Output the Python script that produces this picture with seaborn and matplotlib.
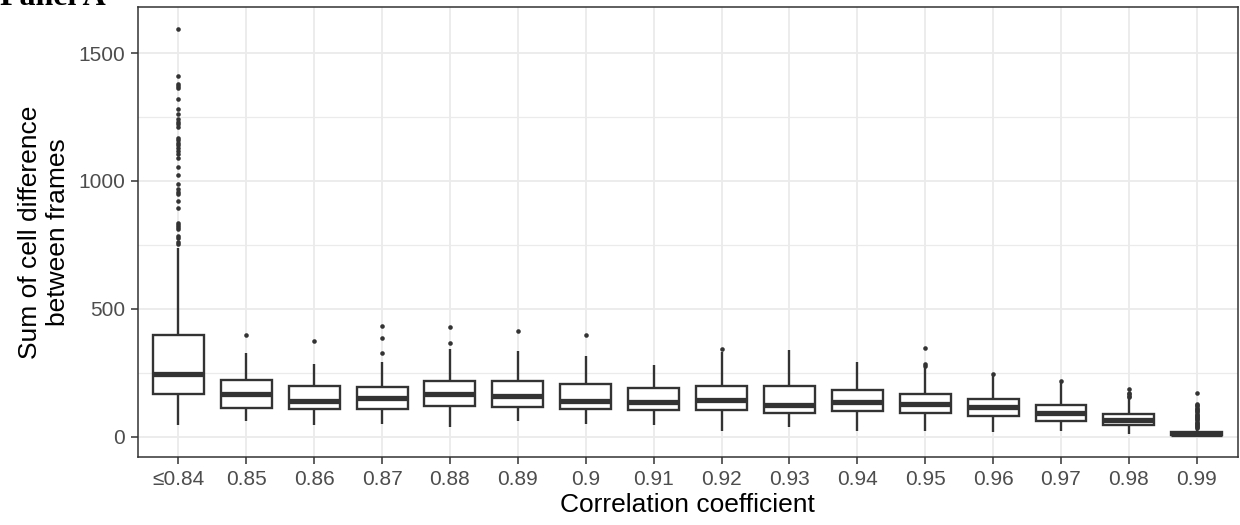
import numpy as np
import pandas as pd
import matplotlib
matplotlib.use("Agg")
import matplotlib.pyplot as plt
from matplotlib.ticker import MultipleLocator
import seaborn as sns

# Box summaries
categories = ["≤0.84", "0.85", "0.86", "0.87", "0.88", "0.89", "0.9", "0.91",
              "0.92", "0.93", "0.94", "0.95", "0.96", "0.97", "0.98", "0.99"]
whisker_low = [46, 59, 46, 51, 39, 62, 50, 47, 23, 39, 21, 23, 17, 21, 10, 0]
q1 = [165, 113, 108, 109, 121, 117, 108, 102, 102, 94, 99, 91, 81, 60, 46, 7]
median = [245, 165, 141, 152, 168, 157, 138, 134, 143, 125, 134, 128, 115, 92, 65, 11]
q3 = [397, 223, 196, 195, 219, 219, 206, 190, 198, 198, 182, 167, 147, 124, 89, 16]
whisker_high = [737, 328, 284, 293, 344, 333, 315, 280, 329, 339, 290, 270, 240, 212, 150, 29]

outliers = {
    "≤0.84": [1596, 1410, 1378, 1371, 1362, 1322, 1282, 1260, 1241, 1232, 1221,
              1211, 1167, 1159, 1150, 1141, 1130, 1117, 1107, 1088, 1055, 1022,
              987, 967, 958, 950, 922, 893, 837, 828, 820, 811, 785, 778, 763, 753],
    "0.85": [396],
    "0.86": [374],
    "0.87": [434, 387, 328],
    "0.88": [430, 367],
    "0.89": [413],
    "0.9": [398],
    "0.92": [343],
    "0.95": [346, 282, 277],
    "0.96": [244],
    "0.97": [219],
    "0.98": [186, 172, 166, 160, 155],
    "0.99": [169, 127, 122, 118, 113, 109, 104, 100, 95, 90, 85, 81, 76, 72,
             67, 63, 58, 54, 50, 45, 41, 36, 32],
}

# five points per box -> quartiles land exactly on the read values
box_rows = []
for i, c in enumerate(categories):
    for v in [whisker_low[i], q1[i], median[i], q3[i], whisker_high[i]]:
        box_rows.append({"cat": c, "val": v})
box_df = pd.DataFrame(box_rows)

out_rows = [{"cat": c, "val": v} for c, vals in outliers.items() for v in vals]
out_df = pd.DataFrame(out_rows)

plt.rcParams["font.family"] = ["Liberation Sans", "DejaVu Sans"]

fig = plt.figure(figsize=(12.4, 5.25), dpi=100)
ax = fig.add_axes([0.111, 0.1295, 0.887, 0.857])
ax.set_facecolor("white")

dark = "#333333"
sns.boxplot(data=box_df, x="cat", y="val", order=categories, whis=(0, 100),
            showfliers=False, showcaps=False, width=0.75, color="white",
            linecolor=dark, linewidth=1.7,
            medianprops={"linewidth": 3.8, "color": dark},
            ax=ax, zorder=3)
sns.stripplot(data=out_df, x="cat", y="val", order=categories, jitter=False,
              color=dark, size=3.3, linewidth=0, ax=ax, zorder=4)

ax.set_xlim(-0.6, 15.6)
ax.set_ylim(-80, 1680)
ax.set_yticks([0, 500, 1000, 1500])
ax.yaxis.set_minor_locator(MultipleLocator(250))
ax.set_axisbelow(True)
ax.grid(True, which="major", axis="both", color="#EBEBEB", linewidth=1.3)
ax.grid(True, which="minor", axis="y", color="#EBEBEB", linewidth=0.9)
ax.tick_params(which="minor", length=0)
ax.tick_params(which="major", direction="out", length=5, width=1.1,
               color=dark, labelsize=15, labelcolor="#4D4D4D", pad=4)
for s in ax.spines.values():
    s.set_color(dark)
    s.set_linewidth(1.1)

ax.set_xlabel("Correlation coefficient", fontsize=19, color="black", labelpad=3)
ax.set_ylabel("Sum of cell difference\nbetween frames", fontsize=19,
              color="black", labelpad=6)

# title sits mostly above the canvas, as in the source figure
fig.text(0.0, 1 - 5 / 525, "Panel A", fontsize=23, fontweight="bold",
         family="Liberation Serif", va="baseline", ha="left")

fig.savefig("out.png", dpi=100)
